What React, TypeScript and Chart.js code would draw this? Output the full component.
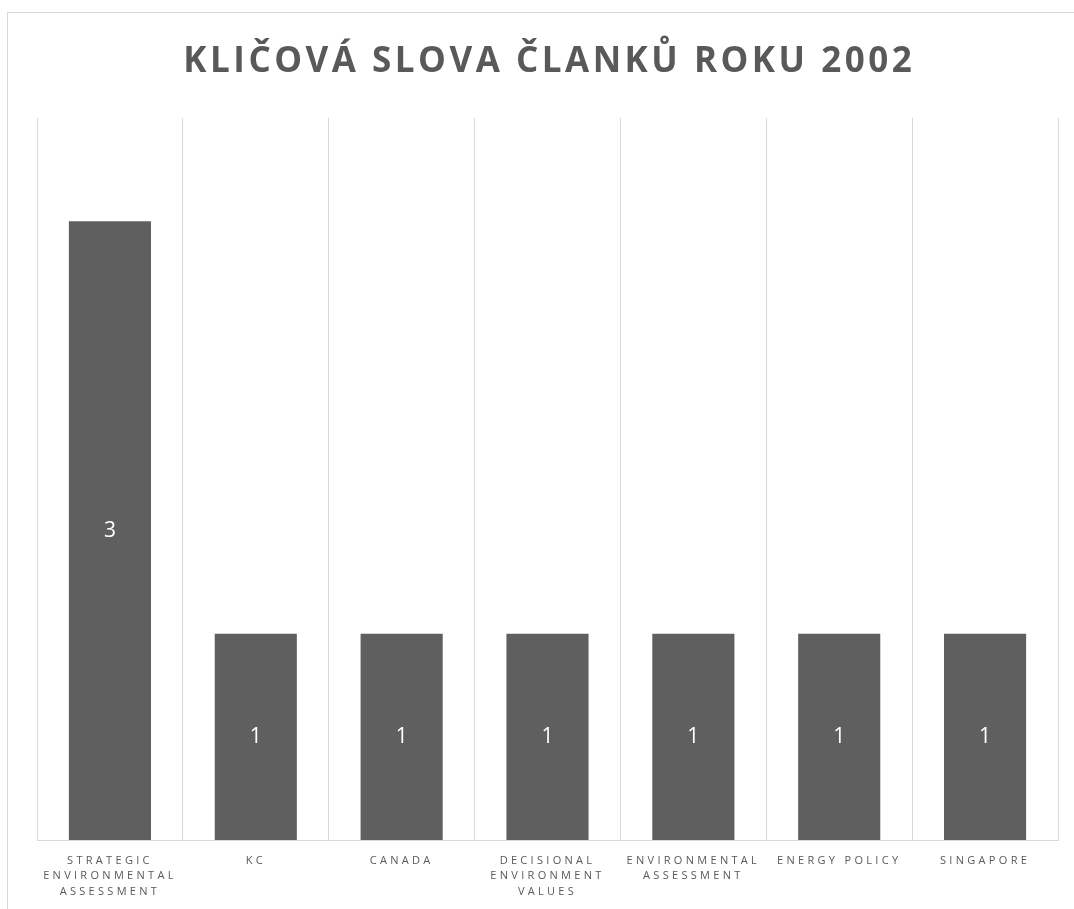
import React, { useEffect, useRef } from "react";
import { Chart, registerables } from "chart.js";

Chart.register(...registerables);

const TITLE = "KLIČOVÁ SLOVA ČLANKŮ ROKU 2002";
const categories: string[][] = [
  ["STRATEGIC", "ENVIRONMENTAL", "ASSESSMENT"],
  ["KC"],
  ["CANADA"],
  ["DECISIONAL", "ENVIRONMENT", "VALUES"],
  ["ENVIRONMENTAL", "ASSESSMENT"],
  ["ENERGY POLICY"],
  ["SINGAPORE"],
];
const counts: number[] = [3, 1, 1, 1, 1, 1, 1];
const yMax = 3.5;

const FONT = '"Open Sans", "Liberation Sans", sans-serif';
const TEXT = "#595959";
const GRID = "#d9d9d9";
const BAR = "#5f5f5f";

const W = 1066;
const H = 896;

const spacingPlugin = {
  id: "tickSpacing",
  beforeLayout(chart: any) {
    chart.ctx.letterSpacing = "3.3px";
  },
  beforeDraw(chart: any) {
    chart.ctx.letterSpacing = "3.3px";
  },
};

const valueLabelPlugin = {
  id: "valueLabels",
  afterDatasetsDraw(chart: any) {
    const ctx = chart.ctx;
    const meta = chart.getDatasetMeta(0);
    ctx.save();
    ctx.letterSpacing = "0px";
    ctx.font = `21px ${FONT}`;
    ctx.fillStyle = "#ffffff";
    ctx.textAlign = "center";
    ctx.textBaseline = "middle";
    meta.data.forEach((el: any, i: number) => {
      const v = chart.data.datasets[0].data[i];
      ctx.fillText(String(v), el.x, (el.y + el.base) / 2);
    });
    ctx.restore();
  },
};

const titlePlugin = {
  id: "spacedTitle",
  afterDraw(chart: any) {
    const ctx = chart.ctx;
    const area = chart.chartArea;
    const sp = 3.5;
    ctx.save();
    ctx.letterSpacing = `${sp}px`;
    ctx.font = `bold 35px ${FONT}`;
    ctx.fillStyle = TEXT;
    ctx.textAlign = "center";
    ctx.textBaseline = "alphabetic";
    ctx.fillText(TITLE, (area.left + area.right) / 2 + sp / 2, 58.7);
    ctx.restore();
  },
};

export default function App() {
  const ref = useRef<HTMLCanvasElement | null>(null);

  useEffect(() => {
    if (!ref.current) return;
    const chart = new Chart(ref.current, {
      type: "bar",
      data: {
        labels: categories,
        datasets: [
          {
            data: counts,
            backgroundColor: BAR,
            borderWidth: 0,
            barPercentage: 0.563,
            categoryPercentage: 1,
          },
        ],
      },
      options: {
        responsive: false,
        animation: false,
        devicePixelRatio: 1,
        layout: { padding: { left: 29, right: 16, top: 105, bottom: 0 } },
        plugins: {
          legend: { display: false },
          title: { display: false },
          tooltip: { enabled: false },
        },
        scales: {
          x: {
            grid: {
              display: true,
              color: GRID,
              lineWidth: 1,
              offset: true,
              drawTicks: false,
            },
            border: { display: true, color: GRID, width: 1 },
            ticks: {
              color: TEXT,
              font: { family: FONT, size: 11, lineHeight: 1.41 },
              padding: 13,
              maxRotation: 0,
              autoSkip: false,
            },
            afterFit(scale: any) {
              scale.height = 69;
            },
          },
          y: {
            display: false,
            min: 0,
            max: yMax,
          },
        },
      },
      plugins: [spacingPlugin, valueLabelPlugin, titlePlugin],
    });
    return () => chart.destroy();
  }, []);

  return (
    <div
      style={{
        position: "fixed",
        left: 7,
        top: 12,
        width: 1100,
        height: 920,
        border: `1px solid ${GRID}`,
        background: "#ffffff",
      }}
    >
      <canvas ref={ref} width={W} height={H} style={{ display: "block", width: W, height: H }} />
    </div>
  );
}
